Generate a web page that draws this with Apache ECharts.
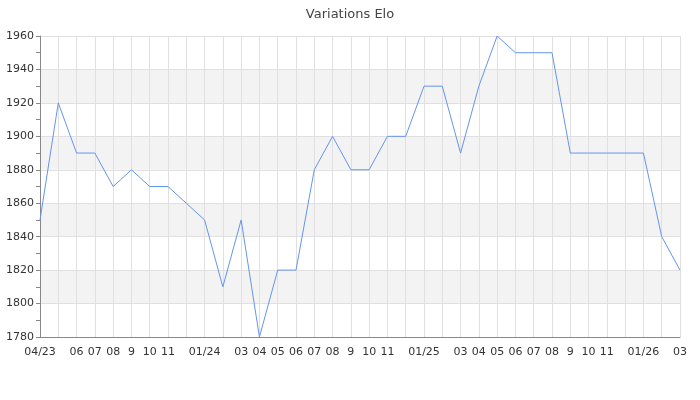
<!DOCTYPE html>
<html>
<head>
<meta charset="utf-8">
<script src="https://cdn.jsdelivr.net/npm/echarts@6/dist/echarts.min.js"></script>
<style>html,body{margin:0;padding:0;background:#fff}#c{width:700px;height:400px}</style>
</head>
<body>
<div id="c"></div>
<script>
const months = ['2023-04','2023-05','2023-06','2023-07','2023-08','2023-09','2023-10','2023-11','2023-12',
  '2024-01','2024-02','2024-03','2024-04','2024-05','2024-06','2024-07','2024-08','2024-09','2024-10','2024-11','2024-12',
  '2025-01','2025-02','2025-03','2025-04','2025-05','2025-06','2025-07','2025-08','2025-09','2025-10','2025-11','2025-12',
  '2026-01','2026-02','2026-03'];
const tickLabels = ['04/23','','06','07','08','9','10','11','',
  '01/24','','03','04','05','06','07','08','9','10','11','',
  '01/25','','03','04','05','06','07','08','9','10','11','',
  '01/26','','03'];
const elo = [1850,1920,1890,1890,1870,1880,1870,1870,1860,
  1850,1810,1850,1780,1820,1820,1880,1900,1880,1880,1900,1900,
  1930,1930,1890,1930,1960,1950,1950,1950,1890,1890,1890,1890,
  1890,1840,1820];

const chart = echarts.init(document.getElementById('c'), null, {renderer:'canvas'});
chart.setOption({
  animation: false,
  title: {
    text: 'Variations Elo', left: 'center', top: 3,
    textStyle: {fontFamily: 'DejaVu Sans', fontSize: 13, fontWeight: 'normal', color: '#444'}
  },
  grid: {left: 40, right: 20, top: 36, bottom: 63},
  xAxis: {
    type: 'category',
    data: months,
    boundaryGap: false,
    axisLine: {lineStyle: {color: '#888'}},
    axisTick: {show: false},
    axisLabel: {
      interval: 0, color: '#333', fontFamily: 'DejaVu Sans', fontSize: 11, margin: 10,
      formatter: (v, i) => tickLabels[i]
    },
    splitLine: {show: true, interval: 0, lineStyle: {color: '#e0e0e0'}}
  },
  yAxis: {
    type: 'value',
    min: 1780, max: 1960, interval: 20,
    axisLine: {show: true, lineStyle: {color: '#888'}},
    axisTick: {show: true, length: 4, lineStyle: {color: '#888'}},
    minorTick: {show: true, splitNumber: 2, length: 4, lineStyle: {color: '#888'}},
    axisLabel: {color: '#333', fontFamily: 'DejaVu Sans', fontSize: 11, margin: 6,
      formatter: v => String(v)},
    splitLine: {show: true, lineStyle: {color: '#e0e0e0'}},
    splitArea: {show: true, areaStyle: {color: ['#ffffff', '#f3f3f3']}}
  },
  series: [{
    type: 'line',
    data: elo,
    symbol: 'none',
    lineStyle: {color: '#6495ed', width: 1},
    itemStyle: {color: '#6495ed'}
  }]
});
</script>
</body>
</html>
